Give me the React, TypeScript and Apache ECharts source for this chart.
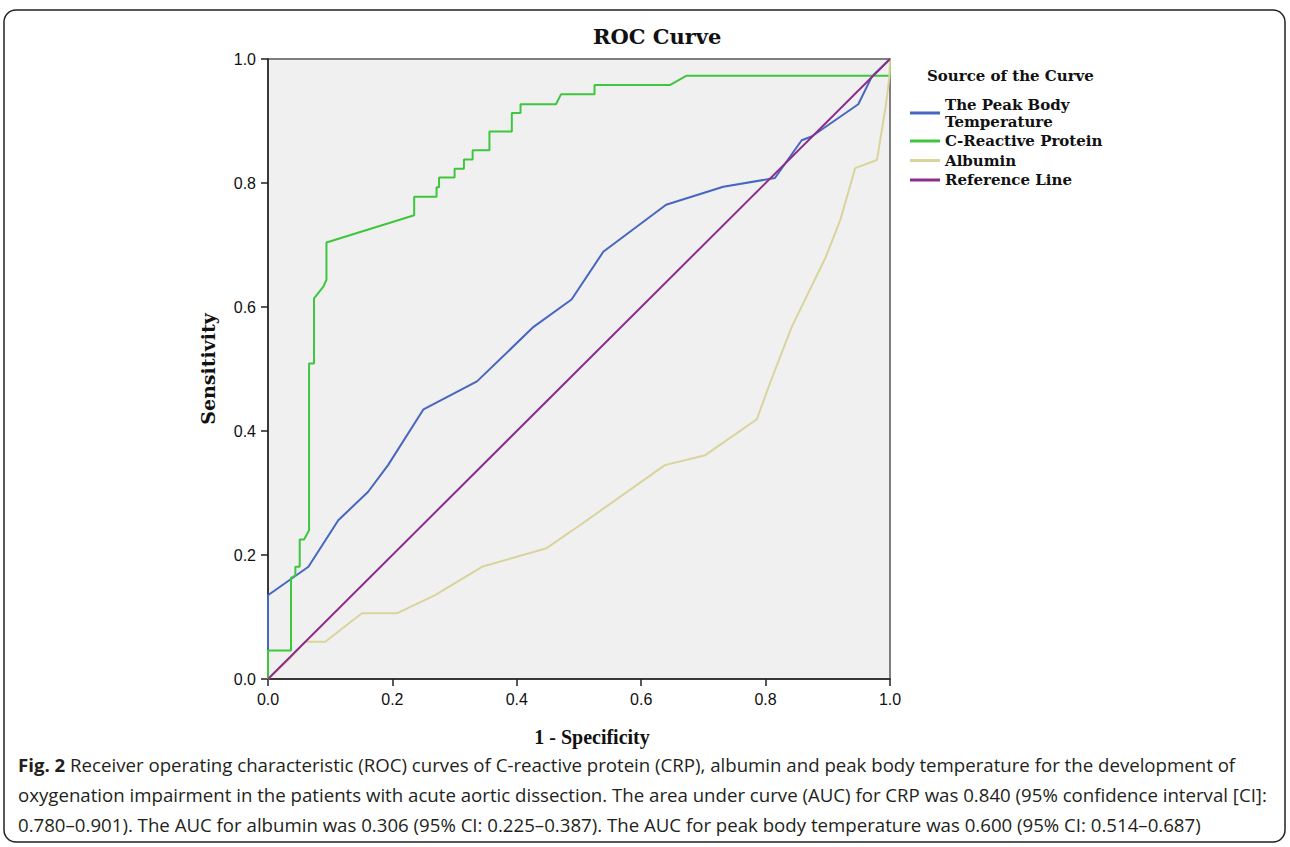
import React, { useEffect, useRef } from "react";
import * as echarts from "echarts";

const seriesNames = ["The Peak Body\nTemperature", "C-Reactive Protein", "Albumin", "Reference Line"];
const seriesColors = ["#4766c0", "#3ec63e", "#d8d49c", "#8c2d8c"];

// 1 - specificity, sensitivity
const tempCurve: [number, number][] = [
  [0, 0], [0, 0.135], [0.065, 0.181], [0.113, 0.256], [0.161, 0.302], [0.193, 0.345],
  [0.25, 0.435], [0.336, 0.48], [0.427, 0.568], [0.488, 0.612], [0.539, 0.689],
  [0.64, 0.765], [0.732, 0.794], [0.815, 0.808], [0.858, 0.869], [0.874, 0.875],
  [0.949, 0.927], [0.971, 0.972], [1, 1],
];

const crpCurve: [number, number][] = [
  [0, 0], [0, 0.046], [0.037, 0.046], [0.037, 0.163], [0.044, 0.167], [0.044, 0.181],
  [0.051, 0.181], [0.051, 0.225], [0.058, 0.225], [0.066, 0.24], [0.066, 0.509],
  [0.074, 0.509], [0.074, 0.614], [0.089, 0.633], [0.094, 0.644], [0.094, 0.704],
  [0.235, 0.748], [0.235, 0.778], [0.271, 0.778], [0.271, 0.793], [0.275, 0.793],
  [0.275, 0.809], [0.3, 0.809], [0.3, 0.823], [0.315, 0.823], [0.315, 0.838],
  [0.329, 0.838], [0.329, 0.853], [0.356, 0.853], [0.356, 0.883], [0.392, 0.883],
  [0.392, 0.913], [0.406, 0.913], [0.406, 0.927], [0.463, 0.927], [0.471, 0.943],
  [0.525, 0.943], [0.525, 0.958], [0.646, 0.958], [0.673, 0.973], [1, 0.973], [1, 1],
];

const albuminCurve: [number, number][] = [
  [0, 0], [0.038, 0.036], [0.059, 0.06], [0.092, 0.06], [0.151, 0.106], [0.207, 0.106],
  [0.268, 0.135], [0.344, 0.181], [0.448, 0.211], [0.51, 0.254], [0.638, 0.345],
  [0.703, 0.361], [0.786, 0.419], [0.807, 0.477], [0.842, 0.568], [0.863, 0.611],
  [0.896, 0.679], [0.92, 0.74], [0.944, 0.824], [0.979, 0.837], [0.993, 0.923],
  [0.999, 0.971], [1, 1],
];

const referenceLine: [number, number][] = [[0, 0], [1, 1]];

const captionLines = [
  "Receiver operating characteristic (ROC) curves of C-reactive protein (CRP), albumin and peak body temperature for the development of",
  "oxygenation impairment in the patients with acute aortic dissection. The area under curve (AUC) for CRP was 0.840 (95% confidence interval [CI]:",
  "0.780\u20130.901). The AUC for albumin was 0.306 (95% CI: 0.225\u20130.387). The AUC for peak body temperature was 0.600 (95% CI: 0.514\u20130.687)",
];

const serif = "'Liberation Serif', 'Times New Roman', serif";
const legendSerif = "'DejaVu Serif', serif";
const sans = "'Liberation Sans', Arial, sans-serif";
const captionFont = "'Open Sans', 'Noto Sans', sans-serif";

export default function App() {
  const ref = useRef<HTMLDivElement>(null);

  useEffect(() => {
    document.body.style.margin = "0";
    if (!ref.current) return;
    const chart = echarts.init(ref.current, undefined, { renderer: "svg" });
    const datasets = [tempCurve, crpCurve, albuminCurve, referenceLine];

    const axisCommon = {
      type: "value" as const,
      min: 0,
      max: 1,
      interval: 0.2,
      splitLine: { show: false },
      axisLine: { show: true, lineStyle: { color: "#222", width: 1.5 } },
      axisTick: { show: true, inside: false, length: 7, lineStyle: { color: "#222", width: 1.5 } },
      axisLabel: {
        color: "#111",
        fontFamily: sans,
        fontSize: 16,
        margin: 12,
        formatter: (v: number) => v.toFixed(1),
      },
      nameLocation: "middle" as const,
    };

    chart.setOption({
      animation: false,
      backgroundColor: "#ffffff",
      title: [
        {
          text: "ROC Curve",
          left: 593,
          top: 26,
          padding: 0,
          textStyle: { fontFamily: legendSerif, fontWeight: "bold", fontSize: 21, color: "#111" },
        },
        {
          text: "Source of the Curve",
          left: 927,
          top: 68,
          padding: 0,
          textStyle: { fontFamily: legendSerif, fontWeight: "bold", fontSize: 15, color: "#111" },
        },
      ],
      legend: {
        orient: "vertical",
        left: 910,
        top: 96,
        padding: 0,
        itemGap: 2.5,
        itemWidth: 30,
        itemHeight: 3,
        icon: "rect",
        selectedMode: false,
        data: seriesNames,
        textStyle: {
          fontFamily: legendSerif,
          fontWeight: "bold",
          fontSize: 15,
          lineHeight: 17,
          color: "#111",
          padding: [0, 0, 0, 0],
        },
      },
      grid: {
        left: 268,
        right: 400,
        top: 59,
        bottom: 168,
        show: true,
        backgroundColor: "#f0f0f0",
        borderColor: "#555",
        borderWidth: 1.5,
      },
      xAxis: {
        ...axisCommon,
        name: "1 - Specificity",
        nameGap: 48,
        nameTextStyle: {
          fontFamily: serif,
          fontWeight: "bold",
          fontSize: 20,
          color: "#111",
          padding: [0, 0, 0, 26],
        },
      },
      yAxis: {
        ...axisCommon,
        name: "Sensitivity",
        nameGap: 51,
        nameRotate: 90,
        nameTextStyle: { fontFamily: legendSerif, fontWeight: "bold", fontSize: 19, color: "#111" },
      },
      series: seriesNames.map((name, i) => ({
        name,
        type: "line",
        data: datasets[i],
        showSymbol: false,
        symbol: "none",
        lineStyle: { color: seriesColors[i], width: 2 },
        itemStyle: { color: seriesColors[i] },
        z: i === 3 ? 4 : 3,
      })),
      graphic: [
        {
          type: "rect",
          shape: { x: 4, y: 10, width: 1281, height: 832, r: 12 },
          style: { fill: "none", stroke: "#222", lineWidth: 1.5 },
          silent: true,
        },
        ...captionLines.map((line, i) => ({
          type: "text",
          left: 18,
          top: 755 + i * 30,
          style: {
            text: i === 0 ? "{b|Fig. 2} " + line : line,
            fontFamily: captionFont,
            fontSize: 18.65,
            fill: "#231f20",
            rich: {
              b: { fontFamily: captionFont, fontSize: 18.65, fontWeight: "bold", fill: "#231f20" },
            },
          },
        })),
      ],
    });

    return () => chart.dispose();
  }, []);

  return <div ref={ref} style={{ width: 1290, height: 847 }} />;
}
